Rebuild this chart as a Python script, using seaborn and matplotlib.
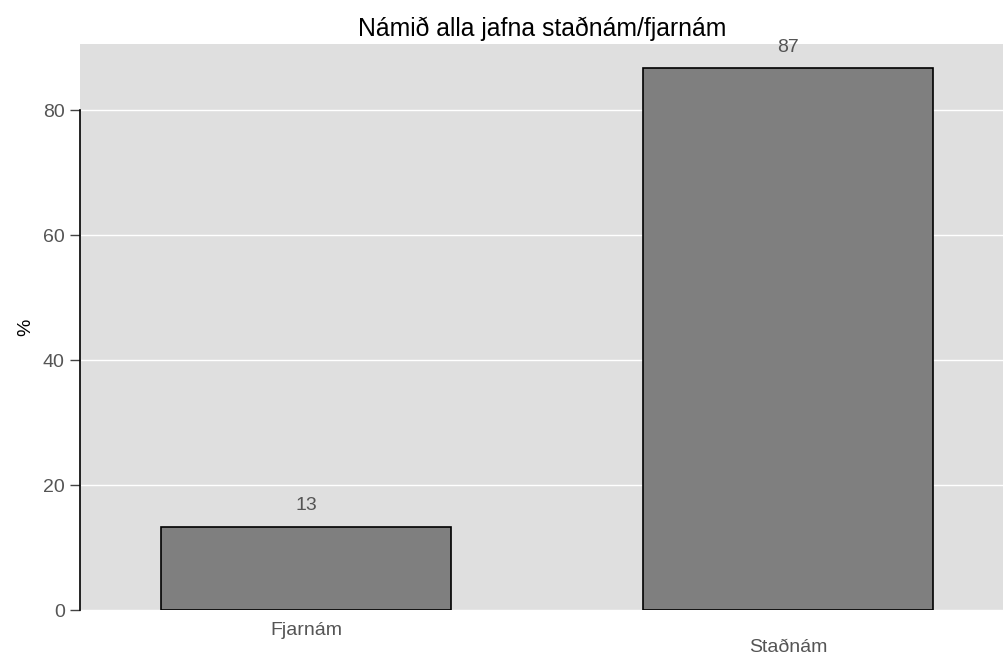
import matplotlib
matplotlib.use('Agg')
import matplotlib.pyplot as plt
import seaborn as sns
import pandas as pd

# 数据
categories = ['Fjarnám', 'Staðnám']
values = [13.3, 86.7]
value_labels = ['13', '87']
title = 'Námið alla jafna staðnám/fjarnám'

sns.set_style('white')
plt.rcParams['font.family'] = ['Liberation Sans', 'DejaVu Sans']

df = pd.DataFrame({'cat': categories, 'pct': values})

fig = plt.figure(figsize=(10.04, 6.62), dpi=100)
ax = fig.add_axes([0.0797, 0.0785, 0.9203, 0.855])
ax.set_facecolor('#dfdfdf')

sns.barplot(data=df, x='cat', y='pct', color='#7f7f7f', saturation=1,
            edgecolor='black', linewidth=1.2, width=0.6, ax=ax, zorder=3)

for i, (v, lab) in enumerate(zip(values, value_labels)):
    ax.text(i, v + 2.0, lab, ha='center', va='bottom', fontsize=14, color='#555555')

ax.set_ylim(0, 90.6)
ax.set_xlim(-0.469, 1.448)
ax.set_yticks([0, 20, 40, 60, 80])
ax.yaxis.grid(True, color='white', linewidth=1, zorder=0)
ax.set_axisbelow(True)
for s in ['top', 'right', 'bottom']:
    ax.spines[s].set_visible(False)
ax.spines['left'].set_color('black')
ax.spines['left'].set_linewidth(1.2)
ax.spines['left'].set_bounds(0, 80)
ax.tick_params(axis='y', which='both', left=True, length=7, width=1, color='#444444',
               labelsize=14, labelcolor='#555555', pad=4)
ax.tick_params(axis='x', bottom=False, labelsize=14, labelcolor='#555555', pad=5)

ax.set_xticks([0, 1])
ax.set_xticklabels(categories)
# 交错的x轴标签
ax.get_xticklabels()[1].set_y(-0.03)

ax.set_xlabel('')
ax.set_ylabel('%', fontsize=14, color='black', labelpad=6)
ax.set_title(title, fontsize=17.8, color='black', pad=6)

fig.savefig('out.png', dpi=100)
